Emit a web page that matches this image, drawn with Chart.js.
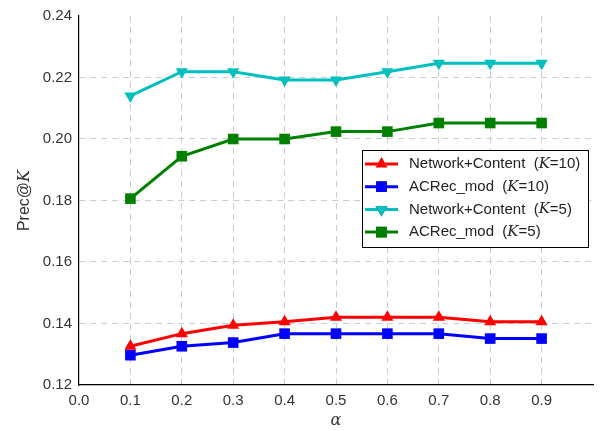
<!DOCTYPE html>
<html>
<head>
<meta charset="utf-8">
<script src="https://cdn.jsdelivr.net/npm/chart.js@4/dist/chart.umd.min.js"></script>
<style>
  html, body { margin: 0; padding: 0; background: #fff; }
  #wrap { width: 604px; height: 431px; }
</style>
</head>
<body>
<div id="wrap"><canvas id="graficoPrec"></canvas></div>
<script>
// ---- data ----
const alphas = [0.1, 0.2, 0.3, 0.4, 0.5, 0.6, 0.7, 0.8, 0.9];
const netContentK10 = [0.1326, 0.1367, 0.1394, 0.1406, 0.1420, 0.1420, 0.1420, 0.1406, 0.1406];
const acrecModK10   = [0.1297, 0.1326, 0.1338, 0.1367, 0.1367, 0.1367, 0.1367, 0.1351, 0.1351];
const netContentK5  = [0.2140, 0.2219, 0.2219, 0.2192, 0.2192, 0.2219, 0.2246, 0.2246, 0.2246];
const acrecModK5    = [0.1806, 0.1944, 0.2000, 0.2000, 0.2024, 0.2024, 0.2052, 0.2052, 0.2052];

const seriesNames = ["Network+Content", "ACRec_mod", "Network+Content", "ACRec_mod"];
const seriesK = [10, 10, 5, 5];

const FONT = "'Liberation Sans', Arial, sans-serif";

function pontos(valores) {
  return alphas.map((a, i) => ({ x: a, y: valores[i] }));
}

function serie(idx, valores, cor, estilo, rot, raio) {
  return {
    label: seriesNames[idx] + " (K=" + seriesK[idx] + ")",
    data: pontos(valores),
    borderColor: cor,
    backgroundColor: cor,
    borderWidth: 3,
    pointStyle: estilo,
    rotation: rot,
    pointRadius: raio,
    pointBorderWidth: 0,
    tension: 0,
    order: 4 - idx
  };
}

// draws a run of text pieces, some italic
function desenhaTexto(ctx, partes, x, y, tam, cor) {
  let cx = x;
  partes.forEach(p => {
    ctx.font = (p.it ? "italic " : "") + tam + "px " + (p.it ? "'DejaVu Serif', serif" : FONT);
    ctx.fillStyle = cor;
    ctx.fillText(p.t, cx, y);
    cx += ctx.measureText(p.t).width;
  });
  return cx - x;
}

function larguraTexto(ctx, partes, tam) {
  let w = 0;
  partes.forEach(p => {
    ctx.font = (p.it ? "italic " : "") + tam + "px " + (p.it ? "'DejaVu Serif', serif" : FONT);
    w += ctx.measureText(p.t).width;
  });
  return w;
}

// axis titles + matplotlib style legend
const extras = {
  id: "extras",
  afterDraw(chart) {
    const ctx = chart.ctx;
    const area = chart.chartArea;
    ctx.save();
    ctx.textBaseline = "middle";

    // x title
    const xt = [{ t: "α", it: true }];
    const wx = larguraTexto(ctx, xt, 16);
    desenhaTexto(ctx, xt, (area.left + area.right) / 2 - wx / 2, 421, 16, "#333");

    // y title (rotated)
    const yt = [{ t: "Prec@" }, { t: "K", it: true }];
    ctx.save();
    ctx.translate(25, (area.top + area.bottom) / 2);
    ctx.rotate(-Math.PI / 2);
    const wy = larguraTexto(ctx, yt, 16);
    desenhaTexto(ctx, yt, -wy / 2, 0, 16, "#333");
    ctx.restore();

    // legend
    const bx = 362, by = 150, bw = 226, bh = 97;
    ctx.fillStyle = "#fff";
    ctx.fillRect(bx, by, bw, bh);
    ctx.strokeStyle = "#000";
    ctx.lineWidth = 1;
    ctx.strokeRect(bx + 0.5, by + 0.5, bw, bh);

    chart.data.datasets.forEach((ds, i) => {
      const ly = by + 14 + i * 22.7;
      ctx.strokeStyle = ds.borderColor;
      ctx.lineWidth = 3;
      ctx.beginPath();
      ctx.moveTo(bx + 3, ly);
      ctx.lineTo(bx + 36, ly);
      ctx.stroke();
      Chart.helpers.drawPoint(ctx, {
        pointStyle: ds.pointStyle,
        rotation: ds.rotation,
        radius: ds.pointRadius,
        borderWidth: 0
      }, bx + 19.5, ly);
      ctx.fillStyle = ds.backgroundColor;
      ctx.fill();
      const partes = [
        { t: seriesNames[i] + "  (" },
        { t: "K", it: true },
        { t: "=" + seriesK[i] + ")" }
      ];
      desenhaTexto(ctx, partes, bx + 47, ly, 15, "#222");
    });
    ctx.restore();
  }
};

const gradeCor = "#cccccc";

new Chart(document.getElementById("graficoPrec"), {
  type: "line",
  data: {
    datasets: [
      serie(0, netContentK10, "#ff0000", "triangle", 0, 7),
      serie(1, acrecModK10, "#0000ff", "rect", 0, 7.5),
      serie(2, netContentK5, "#00bfbf", "triangle", 180, 7),
      serie(3, acrecModK5, "#008000", "rect", 0, 7.5)
    ]
  },
  options: {
    responsive: true,
    maintainAspectRatio: false,
    animation: false,
    layout: { padding: { top: 12, right: 11, left: 0, bottom: 0 } },
    plugins: { legend: { display: false }, tooltip: { enabled: false } },
    scales: {
      x: {
        type: "linear",
        min: 0,
        max: 1,
        ticks: {
          stepSize: 0.1,
          padding: 7,
          color: "#333",
          font: { family: FONT, size: 15 },
          callback: v => (v > 0.95 ? "" : v.toFixed(1))
        },
        grid: {
          drawTicks: false,
          color: c => (c.tick && (c.tick.value < 0.05 || c.tick.value > 0.95) ? "rgba(0,0,0,0)" : gradeCor),
          lineWidth: 1
        },
        // v4: border.dash sets the dash of the grid lines
        border: { display: true, color: "#000", width: 1.2, dash: [6, 5] },
        afterFit(scale) { scale.height = 46; }
      },
      y: {
        min: 0.12,
        max: 0.24,
        ticks: {
          stepSize: 0.02,
          padding: 7,
          color: "#333",
          font: { family: FONT, size: 15 },
          callback: v => v.toFixed(2)
        },
        grid: {
          drawTicks: false,
          color: c => (c.tick && (c.tick.value < 0.121 || c.tick.value > 0.239) ? "rgba(0,0,0,0)" : gradeCor),
          lineWidth: 1
        },
        border: { display: true, color: "#000", width: 1.2, dash: [6, 5] },
        afterFit(scale) { scale.width = 79; }
      }
    }
  },
  plugins: [extras]
});
</script>
</body>
</html>
